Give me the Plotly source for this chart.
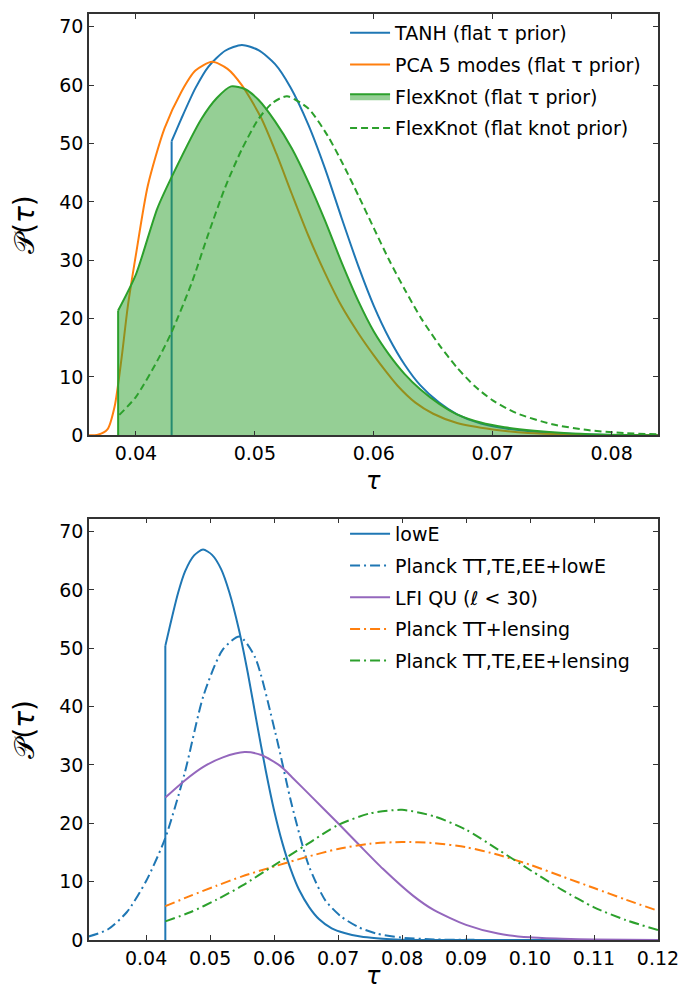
import plotly.graph_objects as go
from plotly.subplots import make_subplots

# ---- top panel: reionisation model comparison ----
tanh_tau = [0.0430, 0.0438, 0.0450, 0.0461, 0.0475, 0.0489, 0.0503, 0.0517,
            0.0530, 0.0545, 0.0559, 0.0573, 0.0587, 0.0600, 0.0613, 0.0626, 0.0639,
            0.0655, 0.0670, 0.0690, 0.0710, 0.0735, 0.0760, 0.0790, 0.0840]
tanh_p = [50.4, 54.2, 59.5, 63.2, 65.9, 66.9, 66.0, 63.6,
          59.6, 53.2, 45.7, 37.2, 29.0, 22.2, 16.6, 12.1, 8.6,
          5.6, 3.6, 2.0, 1.2, 0.6, 0.3, 0.1, 0.02]

pca_tau = [0.0360, 0.0368, 0.0376, 0.0382, 0.0388, 0.0393, 0.0400, 0.0410, 0.0424,
           0.0438, 0.0450, 0.0464, 0.0477, 0.0489, 0.0505, 0.0518, 0.0531, 0.0545,
           0.0559, 0.0573, 0.0587, 0.0600, 0.0610, 0.0620, 0.0635, 0.0650, 0.0670,
           0.0700, 0.0730, 0.0760, 0.0800, 0.0840]
pca_p = [0.0, 0.1, 1.0, 4.9, 13.4, 21.9, 31.0, 42.8, 52.6,
         58.8, 62.5, 64.0, 62.8, 60.0, 54.5, 48.3, 41.4, 34.2,
         27.8, 22.1, 17.5, 13.7, 11.0, 8.5, 5.6, 3.7, 2.1,
         1.0, 0.4, 0.15, 0.03, 0.0]

flex_tau = [0.0385, 0.0400, 0.0418, 0.0432, 0.0455, 0.0468, 0.0480, 0.0492,
            0.0503, 0.0517, 0.0531, 0.0545, 0.0559, 0.0573, 0.0587, 0.0600, 0.0613,
            0.0626, 0.0639, 0.0655, 0.0670, 0.0690, 0.0710, 0.0735, 0.0760, 0.0790,
            0.0840]
flex_p = [21.4, 27.6, 38.9, 45.1, 54.2, 57.8, 59.8, 59.3,
          57.5, 53.8, 49.2, 43.4, 36.8, 29.6, 23.0, 17.8, 13.8,
          10.5, 7.9, 5.4, 3.6, 2.2, 1.4, 0.8, 0.4, 0.15,
          0.03]

knot_tau = [0.0386, 0.0400, 0.0418, 0.0430, 0.0447, 0.0460, 0.0475, 0.0489, 0.0503,
            0.0515, 0.0527, 0.0545, 0.0561, 0.0574, 0.0587, 0.0600, 0.0613, 0.0626,
            0.0640, 0.0655, 0.0670, 0.0685, 0.0700, 0.0720, 0.0750, 0.0780, 0.0810,
            0.0840]
knot_p = [3.5, 6.6, 12.8, 17.7, 26.2, 34.0, 42.5, 49.0, 54.2,
          57.0, 58.1, 56.0, 51.4, 46.5, 41.1, 35.5, 30.0, 25.0,
          20.0, 15.5, 11.6, 8.4, 6.0, 3.8, 1.9, 0.9, 0.4,
          0.15]

# ---- bottom panel: data-set comparison ----
lowe_tau = tanh_tau + [0.1200]
lowe_p = tanh_p + [0.0]

ttteee_tau = [0.031, 0.034, 0.037, 0.040, 0.043, 0.046, 0.049, 0.052, 0.0546,
              0.057, 0.0602, 0.0628, 0.0654, 0.068, 0.0705, 0.0732, 0.076, 0.080,
              0.085, 0.090, 0.100, 0.120]
ttteee_p = [0.6, 1.8, 4.8, 10.1, 17.5, 28.5, 42.0, 49.8, 52.0,
            48.5, 35.5, 23.0, 12.8, 6.8, 4.0, 2.2, 1.1, 0.4,
            0.1, 0.03, 0.0, 0.0]

lfi_tau = [0.043, 0.046, 0.049, 0.052, 0.0554, 0.058, 0.061, 0.0628, 0.066,
           0.070, 0.0732, 0.077, 0.0817, 0.085, 0.090, 0.095, 0.100, 0.105,
           0.110, 0.120]
lfi_p = [24.4, 27.3, 29.7, 31.3, 32.2, 31.7, 29.8, 27.9, 24.4,
         20.0, 16.4, 12.2, 7.6, 5.1, 2.6, 1.1, 0.45, 0.2,
         0.08, 0.01]

ttlens_tau = [0.043, 0.047, 0.051, 0.055, 0.060, 0.065, 0.070, 0.075, 0.080,
              0.085, 0.090, 0.095, 0.100, 0.105, 0.110, 0.115, 0.120]
ttlens_p = [5.8, 7.6, 9.3, 10.9, 12.6, 14.2, 15.6, 16.5, 16.8,
            16.6, 15.9, 14.6, 12.9, 10.9, 8.9, 6.9, 5.0]

allens_tau = [0.043, 0.047, 0.051, 0.055, 0.060, 0.065, 0.070, 0.075, 0.080,
              0.085, 0.090, 0.095, 0.100, 0.105, 0.110, 0.115, 0.120]
allens_p = [3.2, 4.8, 6.9, 9.3, 12.8, 16.3, 19.7, 21.7, 22.3,
            21.2, 18.9, 15.5, 12.0, 8.6, 5.6, 3.4, 1.7]

BLUE = "#1f77b4"
ORANGE = "#ff7f0e"
GREEN = "#2ca02c"
PURPLE = "#9467bd"
DASHDOT = "10px,4px,2px,4px"
FONT = "DejaVu Sans"

fig = make_subplots(rows=2, cols=1, vertical_spacing=0.09)


def curve(x, y, name, color, dash="solid", legend="legend", **kw):
    return go.Scatter(x=x, y=y, name=name, mode="lines", legend=legend,
                      legendgroup=name,
                      line=dict(color=color, width=2, dash=dash,
                                shape="spline", smoothing=0.7), **kw)


def edge(x, y, color, legend="legend"):
    # vertical drop at the lower prior bound of a posterior
    return go.Scatter(x=[x[0], x[0]], y=[0, y[0]], mode="lines", showlegend=False,
                      legend=legend, line=dict(color=color, width=2), hoverinfo="skip")


fig.add_trace(curve(tanh_tau, tanh_p, "TANH (flat τ prior)", BLUE), row=1, col=1)
fig.add_trace(edge(tanh_tau, tanh_p, BLUE), row=1, col=1)
fig.add_trace(curve(pca_tau, pca_p, "PCA 5 modes (flat τ prior)", ORANGE), row=1, col=1)
fig.add_trace(curve(flex_tau, flex_p, "FlexKnot (flat τ prior)", GREEN,
                    fill="tozeroy", fillcolor="rgba(44,160,44,0.5)"), row=1, col=1)
fig.add_trace(edge(flex_tau, flex_p, GREEN), row=1, col=1)
fig.add_trace(curve(knot_tau, knot_p, "FlexKnot (flat knot prior)", GREEN,
                    dash="7px,4px"), row=1, col=1)

fig.add_trace(curve(lowe_tau, lowe_p, "lowE", BLUE, legend="legend2"), row=2, col=1)
fig.add_trace(edge(lowe_tau, lowe_p, BLUE, legend="legend2"), row=2, col=1)
fig.add_trace(curve(ttteee_tau, ttteee_p, "Planck TT,TE,EE+lowE", BLUE,
                    dash=DASHDOT, legend="legend2"), row=2, col=1)
fig.add_trace(curve(lfi_tau, lfi_p, "LFI QU (<i>ℓ</i> < 30)", PURPLE,
                    legend="legend2"), row=2, col=1)
fig.add_trace(curve(ttlens_tau, ttlens_p, "Planck TT+lensing", ORANGE,
                    dash=DASHDOT, legend="legend2"), row=2, col=1)
fig.add_trace(curve(allens_tau, allens_p, "Planck TT,TE,EE+lensing", GREEN,
                    dash=DASHDOT, legend="legend2"), row=2, col=1)

axis_style = dict(showline=True, linecolor="#333333", linewidth=1.5, mirror="allticks",
                  ticks="inside", ticklen=5, tickwidth=1.2, tickcolor="#333333",
                  showgrid=False, zeroline=False,
                  tickfont=dict(family=FONT, size=19, color="black"))

fig.update_xaxes(**axis_style)
fig.update_yaxes(**axis_style)
fig.update_xaxes(range=[0.03605, 0.0839], tick0=0.04, dtick=0.01, tickformat=".2f",
                 row=1, col=1)
fig.update_xaxes(range=[0.03107, 0.12], tick0=0.04, dtick=0.01, tickformat=".2f",
                 row=2, col=1)
fig.update_yaxes(range=[0, 72.2], dtick=10,
                 title=dict(text="𝒫(<i>τ</i>)", font=dict(size=28), standoff=16))

# x-axis titles placed as annotations so the lower one stays inside the page
for xref, yref, shift in [("x domain", "y domain", -46), ("x2 domain", "y2 domain", -36)]:
    fig.add_annotation(text="<i>τ</i>", xref=xref, yref=yref, x=0.5, y=0,
                       yshift=shift, yanchor="middle", showarrow=False, borderpad=0,
                       font=dict(family=FONT, size=24, color="black"))

legend_style = dict(bgcolor="rgba(0,0,0,0)", xanchor="left", yanchor="top",
                    font=dict(family=FONT, size=19, color="black"),
                    itemwidth=40, tracegroupgap=4)

fig.update_layout(
    width=697, height=994,
    margin=dict(l=81, r=47, t=4, b=62),
    plot_bgcolor="white", paper_bgcolor="white",
    font=dict(family=FONT, color="black"),
    showlegend=True,
    legend=dict(x=0.45, y=1.0, **legend_style),
    legend2=dict(x=0.45, y=0.459, **legend_style),
)

fig.write_html("out.html")
